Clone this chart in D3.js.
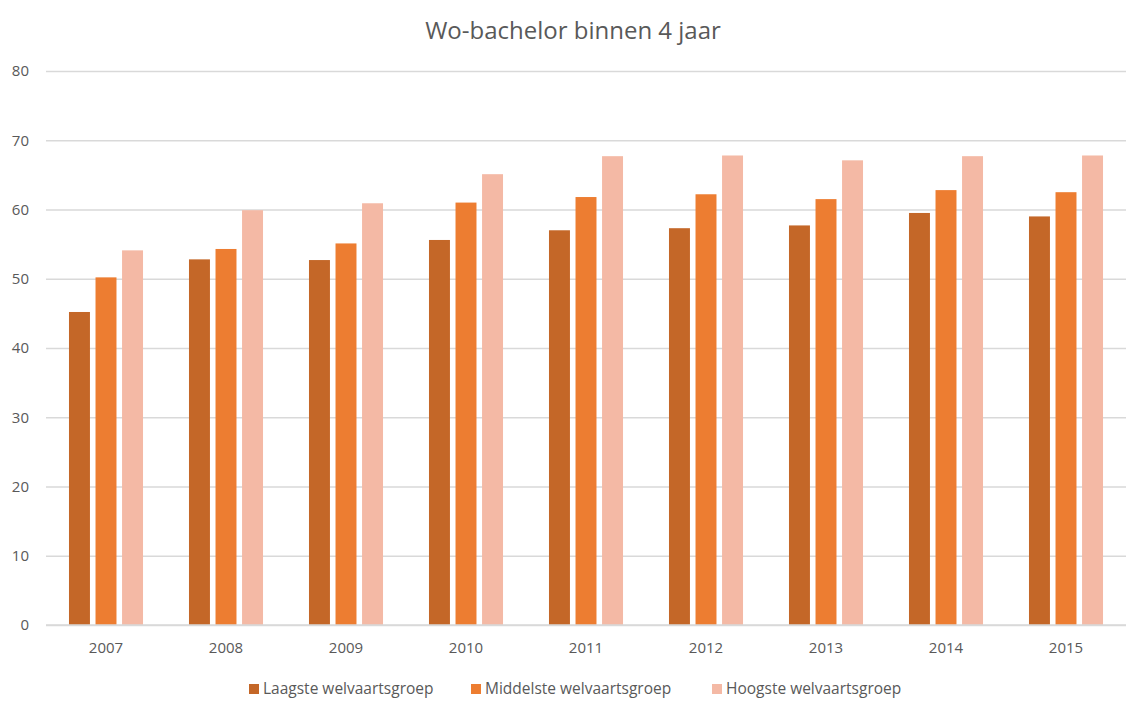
<!DOCTYPE html>
<html>
<head>
<meta charset="utf-8">
<script src="https://cdnjs.cloudflare.com/ajax/libs/d3/7.8.5/d3.min.js"></script>
<style>
  body { margin: 0; background: #fff; }
  svg text { font-family: "Open Sans", "Noto Sans", sans-serif; }
</style>
</head>
<body>
<svg id="chart" width="1136" height="710"></svg>
<script>
const years = ["2007","2008","2009","2010","2011","2012","2013","2014","2015"];
const seriesNames = ["Laagste welvaartsgroep","Middelste welvaartsgroep","Hoogste welvaartsgroep"];
const laagste   = [45.2, 52.8, 52.7, 55.6, 57.0, 57.3, 57.7, 59.5, 59.0];
const middelste = [50.2, 54.3, 55.1, 61.0, 61.8, 62.2, 61.5, 62.8, 62.5];
const hoogste   = [54.1, 59.9, 60.9, 65.1, 67.7, 67.8, 67.1, 67.7, 67.8];
const yTicks = [0,10,20,30,40,50,60,70,80];
const colors = ["#C46728","#ED7D31","#F4B9A5"];
const title = "Wo-bachelor binnen 4 jaar";

const series = [laagste, middelste, hoogste];
const svg = d3.select("#chart");
const plotLeft = 46, plotRight = 1126, plotTop = 71, plotBottom = 625;
const FONT = '"Open Sans", "Noto Sans", sans-serif';

const y = d3.scaleLinear().domain([0,80]).range([plotBottom, plotTop]);
const x0 = d3.scaleBand().domain(years).range([plotLeft, plotRight]).paddingInner(0.383).paddingOuter(0.1915);
const x1 = d3.scaleBand().domain(d3.range(3)).range([0, x0.bandwidth()]).paddingInner(0.21).paddingOuter(0);

// Title
svg.append("text").attr("x", 573).attr("y", 39).attr("text-anchor","middle")
  .attr("font-size", 24).attr("fill", "#595959").text(title);

// Gridlines + y labels
const yAxis = d3.axisLeft(y).tickValues(yTicks).tickSize(-(plotRight-plotLeft)).tickPadding(17).tickFormat(d3.format("d"));
const gy = svg.append("g").attr("transform", `translate(${plotLeft},0)`).call(yAxis)
  .attr("font-family", FONT).attr("font-size", 15);
gy.select(".domain").remove();
gy.selectAll(".tick line").attr("stroke", "#D9D9D9").attr("stroke-width", 1.5);
gy.selectAll(".tick text").attr("fill", "#595959");

// Bars
const groups = svg.append("g").selectAll("g").data(years).join("g")
  .attr("transform", d => `translate(${x0(d)},0)`);
groups.selectAll("rect").data((d,i) => series.map((s,k) => ({k, v: s[i]}))).join("rect")
  .attr("x", d => x1(d.k)).attr("width", x1.bandwidth())
  .attr("y", d => y(d.v)).attr("height", d => y(0) - y(d.v))
  .attr("fill", d => colors[d.k]);

// Baseline
svg.append("line").attr("x1", plotLeft).attr("x2", plotRight).attr("y1", y(0)).attr("y2", y(0))
  .attr("stroke", "#D9D9D9").attr("stroke-width", 1.5);

// X axis
const xAxis = d3.axisBottom(x0).tickSize(0).tickPadding(17);
const gx = svg.append("g").attr("transform", `translate(0,${plotBottom})`).call(xAxis)
  .attr("font-family", FONT).attr("font-size", 15);
gx.select(".domain").remove();
gx.selectAll(".tick text").attr("fill", "#595959");

// Legend
const legendX = [249, 471, 712];
const lg = svg.append("g").selectAll("g").data(seriesNames).join("g")
  .attr("transform", (d,i) => `translate(${legendX[i]},684)`);
lg.append("rect").attr("width", 10).attr("height", 10).attr("fill", (d,i) => colors[i]);
lg.append("text").attr("x", 14).attr("y", 10).attr("font-size", 15.5).attr("fill", "#595959").text(d => d);
</script>
</body>
</html>
